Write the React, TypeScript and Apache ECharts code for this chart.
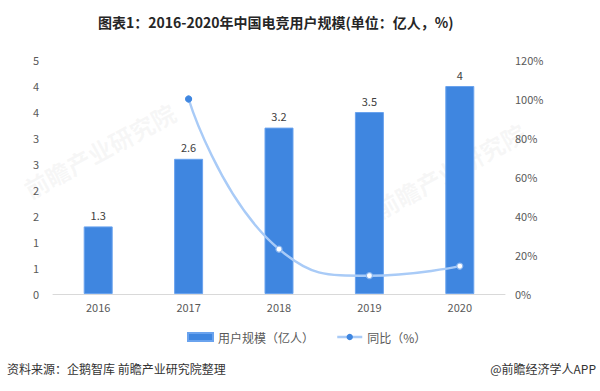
import React, { useEffect, useRef } from "react";
import * as echarts from "echarts";

const categories = ["2016", "2017", "2018", "2019", "2020"];
const users = [1.3, 2.6, 3.2, 3.5, 4];
const yoy: (number | null)[] = [null, 100, 23, 9.4, 14.3];
const titleText = "图表1：2016-2020年中国电竞用户规模(单位：亿人，%)";
const sourceText = "资料来源：企鹅智库 前瞻产业研究院整理";
const brandText = "@前瞻经济学人APP";
const legendNames = ["用户规模（亿人）", "同比（%）"];

const FONT = "'Noto Sans CJK SC', 'Noto Sans', sans-serif";

export default function App() {
  const ref = useRef<HTMLDivElement>(null);
  useEffect(() => {
    if (!ref.current) return;
    const chart = echarts.init(ref.current, undefined, { renderer: "svg" });
    const wm = (x: number, y: number) => ({
      type: "text",
      x,
      y,
      rotation: 0.5,
      silent: true,
      z: -10,
      style: {
        text: "前瞻产业研究院",
        fontSize: 24,
        fill: "rgba(190,190,190,0.12)",
        fontFamily: FONT,
        fontWeight: "bold",
      },
    });
    chart.setOption({
      animation: false,
      backgroundColor: "#ffffff",
      textStyle: { fontFamily: FONT },
      title: {
        text: titleText,
        left: 93,
        top: 10,
        textStyle: { fontSize: 14, fontWeight: "bold", color: "#262626", fontFamily: FONT },
      },
      legend: {
        top: 326,
        left: 182,
        itemGap: 22,
        itemWidth: 25,
        itemHeight: 8,
        textStyle: { fontSize: 12, color: "#595959", fontFamily: FONT },
        data: [
          { name: legendNames[0], icon: "rect" },
          {
            name: legendNames[1],
            itemStyle: { color: "#3f86e0", borderColor: "#3f86e0", borderWidth: 0 },
            lineStyle: { color: "#a9cbf7", width: 2.5 },
          },
        ],
      },
      grid: { left: 53, right: 95, top: 60, bottom: 97 },
      xAxis: {
        type: "category",
        data: categories,
        axisLine: { lineStyle: { color: "#d9d9d9" } },
        axisTick: { show: false },
        axisLabel: { color: "#595959", fontSize: 11, margin: 7 },
      },
      yAxis: [
        {
          type: "value",
          min: 0,
          max: 4.5,
          interval: 0.5,
          splitLine: { show: false },
          axisLine: { show: false },
          axisTick: { show: false },
          axisLabel: {
            color: "#595959",
            fontSize: 11,
            margin: 14,
            formatter: (v: number) => String(Math.round(v)),
          },
        },
        {
          type: "value",
          min: 0,
          max: 120,
          interval: 20,
          splitLine: { show: false },
          axisLine: { show: false },
          axisTick: { show: false },
          axisLabel: { color: "#595959", fontSize: 11, margin: 10, formatter: "{value}%" },
        },
      ],
      series: [
        {
          name: legendNames[0],
          type: "bar",
          data: users,
          barWidth: 29,
          itemStyle: { color: "#3f86e0", borderColor: "#6aa3ee", borderWidth: 1 },
          label: { show: true, position: "top", color: "#404040", fontSize: 11, distance: 6 },
        },
        {
          name: legendNames[1],
          type: "line",
          yAxisIndex: 1,
          data: yoy.map((v, i) =>
            i === 1
              ? { value: v, itemStyle: { color: "#3f86e0", borderColor: "#3f86e0" } }
              : v
          ),
          smooth: 0.5,
          symbol: "circle",
          symbolSize: 6,
          showSymbol: true,
          lineStyle: { color: "#a9cbf7", width: 2.5 },
          itemStyle: { color: "#ffffff", borderColor: "#8db7ef", borderWidth: 1.2 },
        },
      ],
      graphic: [
        {
          type: "text",
          left: 7,
          top: 362,
          style: { text: sourceText, fontSize: 12, fill: "#333333", fontFamily: FONT },
        },
        {
          type: "text",
          right: 4,
          top: 362,
          style: { text: brandText, fontSize: 12, fill: "#333333", fontFamily: FONT },
        },
        wm(20, 180),
        wm(370, 200),
      ],
    });
    return () => chart.dispose();
  }, []);
  return <div ref={ref} style={{ width: 600, height: 391, position: "absolute", left: 0, top: 0 }} />;
}
